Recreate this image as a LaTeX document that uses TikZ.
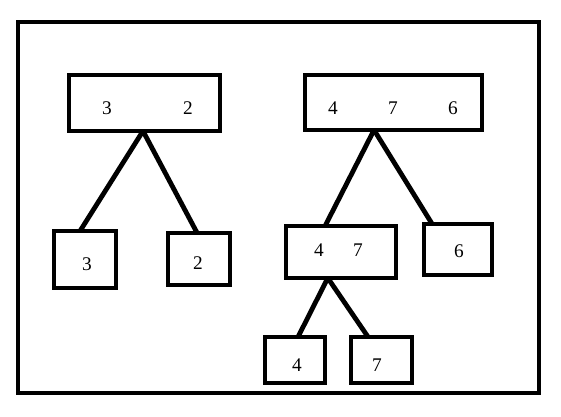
\documentclass[tikz,border=0pt]{standalone}
\usepackage{fontspec}
\setmainfont{Liberation Serif}
\usetikzlibrary{calc}
\begin{document}
\begin{tikzpicture}[x=0.75pt,y=-0.75pt,
  box/.style={draw,line width=3.6pt,rectangle,inner sep=0pt,outer sep=0pt},
  num/.style={inner sep=0pt,font=\fontsize{14.5}{16}\selectfont},
  edge/.style={line width=3.6pt}]
\useasboundingbox (0,0) rectangle (561,417);
\node[box,minimum width=521*0.75pt,minimum height=371*0.75pt] (frame) at (278.5,207.5) {};
% boxes
\node[box,minimum width=151*0.75pt,minimum height=56*0.75pt] (a) at (144.5,103) {};
\node[box,minimum width=177*0.75pt,minimum height=55*0.75pt] (b) at (393.5,102.5) {};
\node[box,minimum width=62*0.75pt,minimum height=57*0.75pt] (c3) at (85,259.5) {};
\node[box,minimum width=62*0.75pt,minimum height=52*0.75pt] (c2) at (199,259) {};
\node[box,minimum width=110*0.75pt,minimum height=52*0.75pt] (d47) at (341,252) {};
\node[box,minimum width=68*0.75pt,minimum height=51*0.75pt] (d6) at (458,249.5) {};
\node[box,minimum width=60*0.75pt,minimum height=46*0.75pt] (e4) at (295,360) {};
\node[box,minimum width=61*0.75pt,minimum height=46*0.75pt] (e7) at (381.5,360) {};
% texts
\node[num] (ta1) at (107,108) {3};
\node[num] (ta2) at (188,108) {2};
\node[num] (tb1) at (333,108) {4};
\node[num] (tb2) at (393,108) {7};
\node[num] (tb3) at (453,108) {6};
\node[num] (tc3) at (87,264) {3};
\node[num] (tc2) at (198,263) {2};
\node[num] (td1) at (319,250) {4};
\node[num] (td2) at (358,250) {7};
\node[num] (td6) at (459,251) {6};
\node[num] (te4) at (297,365) {4};
\node[num] (te7) at (377,365) {7};
% edges
\draw[edge] ($(a.south west)!0.49!(a.south east)$) -- ($(c3.north west)!0.42!(c3.north east)$);
\draw[edge] ($(a.south west)!0.49!(a.south east)$) -- ($(c2.north west)!0.47!(c2.north east)$);
\draw[edge] ($(b.south west)!0.39!(b.south east)$) -- ($(d47.north west)!0.355!(d47.north east)$);
\draw[edge] ($(b.south west)!0.39!(b.south east)$) -- ($(d6.north west)!0.12!(d6.north east)$);
\draw[edge] ($(d47.south west)!0.38!(d47.south east)$) -- ($(e4.north west)!0.55!(e4.north east)$);
\draw[edge] ($(d47.south west)!0.38!(d47.south east)$) -- ($(e7.north west)!0.28!(e7.north east)$);
\end{tikzpicture}
\end{document}
